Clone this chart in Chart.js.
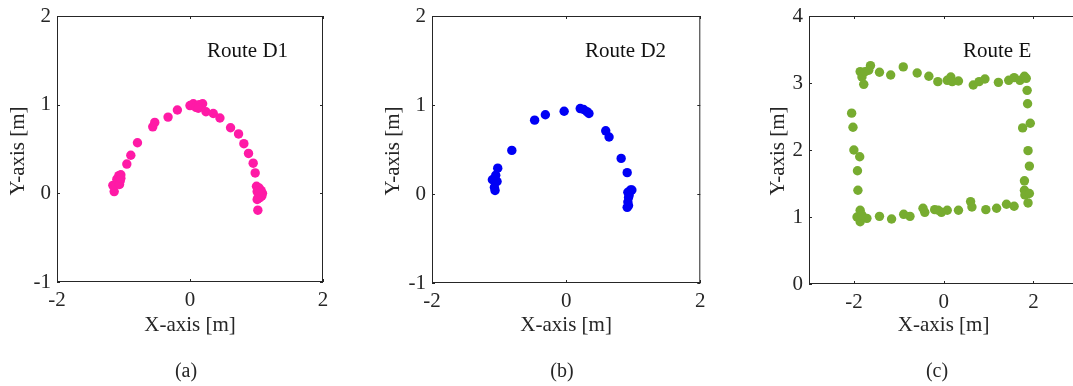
<!DOCTYPE html>
<html>
<head>
<meta charset="utf-8">
<script src="https://cdn.jsdelivr.net/npm/chart.js@4.4.0/dist/chart.umd.min.js"></script>
<style>
html, body { margin: 0; padding: 0; background: #fff; width: 1073px; height: 386px; overflow: hidden; }
.panel { position: absolute; top: 0; height: 386px; }
</style>
</head>
<body>
<div class="panel" style="left:0;width:330px"><canvas id="chartA"></canvas></div>
<div class="panel" style="left:360px;width:345px"><canvas id="chartB"></canvas></div>
<div class="panel" style="left:713px;width:370px"><canvas id="chartC"></canvas></div>
<script>
// route D1 (pink)
const routeD1X = [-1.14, -1.16, -1.12, -1.10, -1.07, -1.04, -1.05, -1.06, -1.04, -0.95, -0.89, -0.79, -0.56, -0.53, -0.33, -0.19,
  0.00, 0.05, 0.09, 0.14, 0.19, 0.125, 0.24, 0.35, 0.45, 0.61, 0.73, 0.81, 0.88, 0.95, 0.98,
  1.00, 1.04, 1.07, 1.09, 1.08, 1.05, 1.02, 1.01, 1.06, 1.03, 1.01, 1.02];
const routeD1Y = [0.02, 0.09, 0.10, 0.16, 0.20, 0.21, 0.14, 0.10, 0.17, 0.33, 0.43, 0.57, 0.75, 0.80, 0.86, 0.94,
  0.99, 1.01, 0.97, 1.00, 1.01, 0.96, 0.92, 0.90, 0.85, 0.74, 0.67, 0.56, 0.45, 0.34, 0.23,
  0.08, 0.06, 0.03, 0.00, -0.03, -0.05, -0.06, 0.02, -0.02, 0.00, -0.07, -0.19];

// route D2 (blue)
const routeD2X = [-1.06, -1.07, -1.10, -1.03, -1.05, -1.02, -0.81, -0.47, -0.31, -0.03, 0.21, 0.26, 0.31, 0.34,
  0.59, 0.64, 0.82, 0.91, 0.96, 0.92, 0.93, 0.92, 0.91, 0.93, 0.94, 0.98];
const routeD2Y = [0.04, 0.075, 0.16, 0.14, 0.21, 0.29, 0.49, 0.83, 0.89, 0.93, 0.96, 0.95, 0.925, 0.905,
  0.71, 0.64, 0.40, 0.24, 0.045, 0.02, -0.04, -0.09, -0.15, -0.13, -0.01, 0.045];

// route E (green)
const routeEX = [-1.86, -1.82, -1.78, -1.75, -1.63, -1.67, -1.43, -1.18, -0.90, -0.59, -0.33, -0.13, 0.08, 0.16, 0.19, 0.33,
  0.66, 0.79, 0.92, 1.22, 1.45, 1.57, 1.70, 1.80, 1.84,
  1.86, 1.87, 1.76, 1.93, 1.88, 1.91, 1.80, 1.80, 1.81, 1.91, 1.88,
  1.57, 1.40, 1.18, 0.94, 0.60, 0.63, 0.33, 0.08, -0.05, -0.12, -0.20, -0.42, -0.46, -0.75, -0.89, -1.16, -1.43,
  -1.71, -1.86, -1.86, -1.93, -1.82,
  -1.91, -1.92, -1.87, -2.00, -2.02, -2.05];
const routeEY = [3.17, 3.09, 2.98, 3.17, 3.26, 3.19, 3.16, 3.12, 3.24, 3.15, 3.10, 3.02, 3.04, 3.09, 3.02, 3.03,
  2.97, 3.02, 3.06, 3.01, 3.04, 3.08, 3.04, 3.10, 3.07,
  2.89, 2.69, 2.33, 2.40, 1.99, 1.76, 1.54, 1.40, 1.33, 1.35, 1.21,
  1.16, 1.19, 1.13, 1.11, 1.23, 1.15, 1.10, 1.10, 1.07, 1.10, 1.11, 1.07, 1.13, 1.01, 1.04, 0.97, 1.01,
  0.98, 0.93, 1.10, 1.00, 1.03,
  1.40, 1.69, 1.90, 2.00, 2.34, 2.55];

const xTicksD = [-2, 0, 2];
const yTicksD = [-1, 0, 1, 2];
const xTicksE = [-2, 0, 2];
const yTicksE = [0, 1, 2, 3, 4];

const serif = "'Liberation Serif', 'DejaVu Serif', serif";
const ink = '#262626';

function pts(xs, ys) {
  return xs.map((x, i) => ({x: x, y: ys[i]}));
}

const frame = {
  id: 'frame',
  afterDraw(chart) {
    const o = chart.options.plugins.frame;
    const ctx = chart.ctx;
    const a = chart.chartArea;
    const sx = chart.scales.x, sy = chart.scales.y;
    ctx.save();
    ctx.strokeStyle = ink;
    ctx.lineWidth = 1;
    ctx.strokeRect(a.left + 0.5, a.top + 0.5, a.right - a.left - 1, a.bottom - a.top - 1);
    ctx.beginPath();
    sx.ticks.forEach(t => {
      const p = Math.round(sx.getPixelForValue(t.value)) + 0.5;
      ctx.moveTo(p, a.bottom); ctx.lineTo(p, a.bottom - 3);
      ctx.moveTo(p, a.top); ctx.lineTo(p, a.top + 3);
    });
    sy.ticks.forEach(t => {
      const p = Math.round(sy.getPixelForValue(t.value)) + 0.5;
      ctx.moveTo(a.left, p); ctx.lineTo(a.left + 3, p);
      ctx.moveTo(a.right, p); ctx.lineTo(a.right - 3, p);
    });
    ctx.stroke();

    ctx.fillStyle = ink;
    ctx.font = '21px ' + serif;
    ctx.textBaseline = 'middle';
    ctx.textAlign = 'center';
    ctx.fillText('X-axis [m]', sx.getPixelForValue(0), 325);
    ctx.font = '20px ' + serif;
    ctx.fillText(o.letter, o.letterX, 372);
    ctx.textAlign = 'left';
    ctx.fillStyle = '#111';
    ctx.font = '21px ' + serif;
    ctx.fillText(o.route, o.routeX, 51);
    ctx.fillStyle = ink;
    ctx.translate(o.yTitleX, 151);
    ctx.rotate(-Math.PI / 2);
    ctx.textAlign = 'center';
    ctx.fillText('Y-axis [m]', 0, 0);
    ctx.restore();
  }
};

function panel(id, data, color, xr, yr, xt, yt, box, frameOpts) {
  new Chart(document.getElementById(id), {
    type: 'scatter',
    data: {datasets: [{data: data, backgroundColor: color, borderWidth: 0, pointRadius: 4.7, pointHoverRadius: 4.7}]},
    options: {
      responsive: true,
      maintainAspectRatio: false,
      animation: false,
      devicePixelRatio: 1,
      layout: {padding: {top: 16, right: box.right, left: 0, bottom: 0}},
      plugins: {legend: {display: false}, tooltip: {enabled: false}, frame: frameOpts},
      scales: {
        x: {
          type: 'linear', min: xr[0], max: xr[1],
          afterBuildTicks: s => { s.ticks = xt.map(v => ({value: v})); },
          afterFit: s => { s.height = box.xh; s.paddingLeft = 0; s.paddingRight = 0; },
          grid: {display: false, drawTicks: false},
          border: {display: false},
          ticks: {font: {family: serif, size: 21}, color: ink, padding: 6, maxRotation: 0, autoSkip: false}
        },
        y: {
          type: 'linear', min: yr[0], max: yr[1],
          afterBuildTicks: s => { s.ticks = yt.map(v => ({value: v})); },
          afterFit: s => { s.width = box.yw; s.paddingTop = 0; s.paddingBottom = 0; },
          grid: {display: false, drawTicks: false},
          border: {display: false},
          ticks: {font: {family: serif, size: 21}, color: ink, padding: 6, autoSkip: false}
        }
      }
    },
    plugins: [frame]
  });
}

panel('chartA', pts(routeD1X, routeD1Y), '#ff1aa6', [-2, 2], [-1, 2], xTicksD, yTicksD,
  {yw: 57, right: 7, xh: 104}, {route: 'Route D1', routeX: 207, letter: '(a)', letterX: 186, yTitleX: 18});
panel('chartB', pts(routeD2X, routeD2Y), '#0000f5', [-2, 2], [-1, 2], xTicksD, yTicksD,
  {yw: 72, right: 3, xh: 103}, {route: 'Route D2', routeX: 225, letter: '(b)', letterX: 202, yTitleX: 33});
panel('chartC', pts(routeEX, routeEY), '#77ac30', [-3, 3], [0, 4], xTicksE, yTicksE,
  {yw: 96, right: 4, xh: 102}, {route: 'Route E', routeX: 250, letter: '(c)', letterX: 224, yTitleX: 65});
</script>
</body>
</html>
